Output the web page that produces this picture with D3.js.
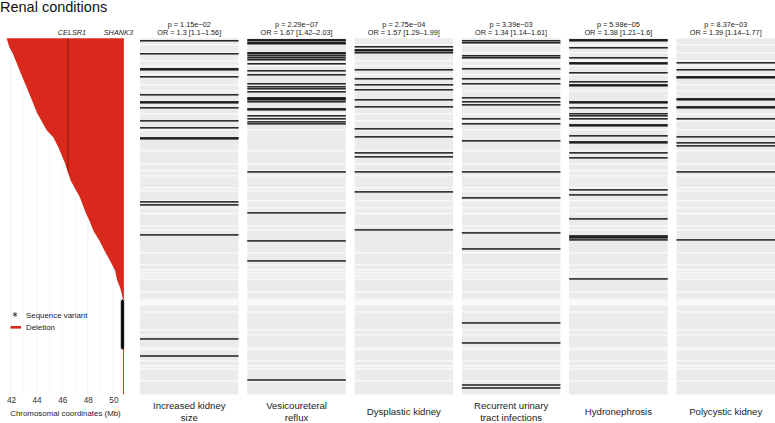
<!DOCTYPE html>
<html><head><meta charset="utf-8">
<script src="https://cdn.jsdelivr.net/npm/d3@7"></script>
<style>body{margin:0;background:#fff} svg{display:block;font-family:"Liberation Sans",Arial,Helvetica,sans-serif}</style>
</head><body><svg id="c" width="775" height="423"></svg>
<script>
// ---------------- data ----------------
const title = "Renal conditions";
const phenotypes = ["Increased kidney\nsize", "Vesicoureteral\nreflux", "Dysplastic kidney",
  "Recurrent urinary\ntract infections", "Hydronephrosis", "Polycystic kidney"];
const pValues = [1.15e-2, 2.29e-7, 2.75e-4, 3.39e-3, 5.98e-5, 8.37e-3];
const orEst = [1.3, 1.67, 1.57, 1.34, 1.38, 1.39];
const orLow = [1.1, 1.42, 1.29, 1.14, 1.21, 1.14];
const orHigh = [1.56, 2.03, 1.99, 1.61, 1.6, 1.77];
const nRows = 356; // patients (rows)
// rows with the phenotype present, per column
const positiveRows = [
  [2, 15, 30, 31, 38, 56, 63, 64, 69, 82, 89, 99, 100, 163, 166, 196, 300, 317],
  [1, 2, 4, 5, 14, 15, 17, 19, 21, 25, 32, 36, 45, 48, 50, 53, 59, 60, 61, 63, 70, 71, 77, 80, 83, 85, 133, 174, 202, 222, 341],
  [8, 11, 12, 14, 31, 40, 46, 51, 61, 68, 90, 98, 114, 118, 133, 153, 191],
  [2, 4, 17, 19, 30, 40, 45, 59, 63, 66, 80, 85, 102, 133, 159, 194, 210, 284, 304, 346, 349],
  [1, 2, 9, 19, 24, 25, 34, 43, 46, 47, 63, 64, 69, 75, 77, 80, 86, 87, 97, 103, 104, 114, 119, 151, 156, 180, 197, 198, 199, 201, 240],
  [24, 31, 38, 39, 60, 61, 68, 69, 80, 98, 104, 107, 133, 201]
];
// rows without phenotype information
const missingRows = [6, 14, 22, 27, 36, 46, 52, 75, 82, 91, 112, 125, 132, 137, 149, 152, 162, 169, 175, 187, 191,
  214, 226, 231, 234, 237, 240, 253, 260, 262, 263, 264, 265, 266, 273, 291, 296, 309, 311, 322, 327, 330, 342];
// deletion start (Mb) along the sorted rows (left edge of the deletion block)
const delProfileRows = [0, 9, 15, 25, 35, 45, 59, 75, 92, 99, 109, 125, 135, 142, 159, 175, 182, 192, 202, 215, 222, 232, 242, 249, 255, 260, 261];
const delProfileStart = [41.66, 41.87, 42.13, 42.45, 42.76, 43.09, 43.54, 44.05, 44.79, 45.30, 45.70, 46.22, 46.48, 46.66, 47.39, 47.86, 48.12, 48.43, 48.90, 49.42, 49.73, 50.13, 50.30, 50.52, 50.65, 50.73, 50.74];
const chrEnd = 50.82;
const seqVariantRowsFrom = 262, seqVariantRowsTo = 309, seqVariantPos = 50.71;
const smallDelRowsFrom = 310, smallDelRowsTo = 355, smallDelStart = 50.745;
const genes = ["CELSR1", "SHANK3"];
const genePos = [46.45, 50.70];
const xTicks = [42, 44, 46, 48, 50];
const xGrid = [42, 43, 44, 45, 46, 47, 48, 49, 50];
const legendLabels = ["Sequence variant", "Deletion"];

// ---------------- layout ----------------
const svg = d3.select("#c");
const RED = "#d9291c";
const y = d3.scaleLinear().domain([0, nRows]).range([38.3, 394.5]);
const rowH = y(1) - y(0);
const x = d3.scaleLinear().domain([42, 50]).range([11, 113.4]);
const cols = d3.scaleBand().domain(d3.range(phenotypes.length)).range([140, 775]).paddingInner(0.0815);

svg.append("text").attr("x", 0).attr("y", 11.5).attr("font-size", 14.5).attr("fill", "#111").text(title);

// ---- left panel ----
const left = svg.append("g");
left.selectAll("line.grid").data(xGrid).join("line")
  .attr("x1", d => x(d)).attr("x2", d => x(d)).attr("y1", y(0)).attr("y2", y(nRows))
  .attr("stroke", d => d % 2 === 0 ? "#e8e8e8" : "#f3f3f3").attr("stroke-width", 0.6);

const delPts = delProfileRows.map((r, i) => ({ r, s: delProfileStart[i] }));
const area = d3.area().y(d => y(d.r)).x0(d => x(d.s)).x1(x(chrEnd));
left.append("clipPath").attr("id", "delclip").append("path").attr("d", area(delPts));
left.append("path").attr("d", area(delPts)).attr("fill", RED);
left.append("line")
  .attr("x1", x(genePos[0])).attr("x2", x(genePos[0])).attr("y1", y(0)).attr("y2", y(nRows))
  .attr("stroke", "#6a1a10").attr("stroke-width", 0.8).attr("clip-path", "url(#delclip)");

left.append("rect").attr("x", x(smallDelStart)).attr("width", x(chrEnd) - x(smallDelStart))
  .attr("y", y(smallDelRowsFrom)).attr("height", y(smallDelRowsTo + 1) - y(smallDelRowsFrom)).attr("fill", RED);

const ast = d3.symbol().type(d3.symbolAsterisk).size(10);
left.selectAll("path.sv").data(d3.range(seqVariantRowsFrom, seqVariantRowsTo + 1)).join("path")
  .attr("transform", r => `translate(${x(seqVariantPos)},${y(r) + rowH / 2})`)
  .attr("d", ast).attr("fill", "none").attr("stroke", "#000").attr("stroke-width", 0.7);

left.selectAll("text.gene").data(genes).join("text")
  .attr("x", (d, i) => x(genePos[i]) + (i === 0 ? 4 : -4)).attr("y", 34.8)
  .attr("text-anchor", "middle").attr("font-size", 7.3).attr("font-style", "italic").attr("fill", "#222").text(d => d);

// axis
const axis = d3.axisBottom(x).tickValues(xTicks).tickSize(0).tickPadding(0).tickFormat(d3.format("d"));
const ag = left.append("g").attr("transform", `translate(0,${y(nRows)})`).call(axis);
ag.select(".domain").remove();
ag.selectAll("text").attr("dy", null).attr("y", 8.5).attr("font-size", 8.2).attr("fill", "#333")
  .attr("font-family", "Liberation Sans, Arial, sans-serif");
left.append("text").attr("x", 65.5).attr("y", 416).attr("text-anchor", "middle").attr("font-size", 7.9)
  .attr("fill", "#222").text("Chromosomal coordinates (Mb)");

// legend
const lg = left.append("g");
lg.append("path").attr("transform", "translate(15,314.5)").attr("d", d3.symbol().type(d3.symbolAsterisk).size(16))
  .attr("fill", "none").attr("stroke", "#222").attr("stroke-width", 0.8);
lg.append("line").attr("x1", 10.5).attr("x2", 21).attr("y1", 327.3).attr("y2", 327.3).attr("stroke", RED).attr("stroke-width", 2.6);
lg.selectAll("text").data(legendLabels).join("text")
  .attr("x", 26).attr("y", (d, i) => 317.5 + i * 12.8).attr("font-size", 7.9).attr("fill", "#222").text(d => d);

// ---- phenotype columns ----
const fmtP = p => {
  const [m, e] = p.toExponential(2).split("e");
  const ev = +e;
  return "p = " + m + "e" + (ev < 0 ? "\u2212" : "+") + String(Math.abs(ev)).padStart(2, "0");
};
const missingSet = new Set(missingRows);
phenotypes.forEach((name, c) => {
  const g = svg.append("g").attr("transform", `translate(${cols(c)},0)`);
  const w = cols.bandwidth();
  g.append("rect").attr("x", 0).attr("y", y(0)).attr("width", w).attr("height", y(nRows) - y(0)).attr("fill", "#ebebeb");
  g.selectAll("rect.m").data(missingRows).join("rect").attr("class", "m")
    .attr("x", 0).attr("width", w).attr("y", r => y(r)).attr("height", rowH).attr("fill", "#fff");
  g.selectAll("rect.p").data(positiveRows[c]).join("rect").attr("class", "p")
    .attr("x", 0).attr("width", w).attr("y", r => y(r) - 0.2).attr("height", rowH * 1.4).attr("fill", "#111");
  const cx = w / 2;
  g.append("text").attr("x", cx).attr("y", 26.5).attr("text-anchor", "middle").attr("font-size", 7.3).attr("fill", "#222")
    .text(fmtP(pValues[c]));
  g.append("text").attr("x", cx).attr("y", 34.5).attr("text-anchor", "middle").attr("font-size", 7.3).attr("fill", "#222")
    .text(`OR = ${orEst[c]} [${orLow[c]}\u2013${orHigh[c]}]`);
  const lines = name.split("\n");
  const t = g.append("text").attr("text-anchor", "middle").attr("font-size", 9.6).attr("fill", "#222");
  lines.forEach((l, i) => {
    t.append("tspan").attr("x", cx).attr("y", (lines.length === 1 ? 414.5 : 408.5 + i * 12)).text(l);
  });
});
</script></body></html>
